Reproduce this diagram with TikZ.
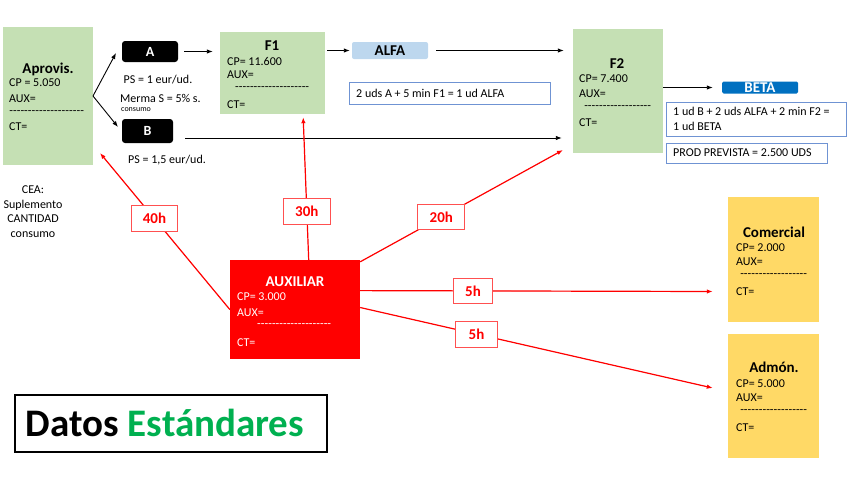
\documentclass[tikz,border=0pt]{standalone}
\usepackage{fontspec}
\setmainfont{Carlito}
\usetikzlibrary{arrows.meta,calc}
\definecolor{boxgreen}{HTML}{C5E0B4}
\definecolor{boxyellow}{HTML}{FFD966}
\definecolor{alfablue}{HTML}{BDD7EE}
\definecolor{betablue}{HTML}{0070C0}
\definecolor{fborder}{HTML}{6F93D3}
\definecolor{estgreen}{HTML}{00B050}
\definecolor{labred}{HTML}{FF5050}
\newcommand\dashrow[1]{\hbox to #1{\xleaders\hbox{-}\hfill}}
\tikzset{
  boxn/.style={draw=none, inner sep=0pt},
  gbox/.style={boxn, fill=boxgreen},
  ybox/.style={boxn, fill=boxyellow},
  ttl/.style={font=\bfseries\fontsize{15}{18}\selectfont, inner sep=0pt, anchor=base},
  ln/.style={font=\fontsize{12}{14}\selectfont, inner sep=0pt, anchor=west},
  sm/.style={font=\fontsize{12}{14.5}\selectfont, inner sep=0pt},
  tinyt/.style={font=\fontsize{8}{9}\selectfont, inner sep=0pt},
  blk/.style={fill=black, rounded corners=3pt, text=white, font=\bfseries\fontsize{14}{16}\selectfont, inner sep=0pt},
  fbox/.style={draw=fborder, line width=0.9pt, inner sep=0pt},
  arr/.style={-{Latex[length=6pt,width=4.5pt]}, line width=0.9pt},
  rarr/.style={-{Latex[length=6pt,width=4.5pt]}, line width=1.2pt, draw=red, fill=red},
  lab/.style={draw=labred, line width=0.9pt, fill=white, text=red, font=\bfseries\fontsize{15}{18}\selectfont, minimum width=46pt, minimum height=26pt, inner sep=0pt},
}
\begin{document}
\begin{tikzpicture}[x=1pt,y=-1pt]
\useasboundingbox (0,0) rectangle (848,477);

% ---------- Aprovis.
\node[gbox, minimum width=90pt, minimum height=138pt] (aprov) at (48,96) {};
\node[ttl] (aprovT) at (48,73) {Aprovis.};
\node[ln] (aprovCP) at (9,83) {CP = 5.050};
\node[ln] (aprovAUX) at (9,99) {AUX=};
\node[ln] (aprovD) at (9,113) {\dashrow{75pt}};
\node[ln] (aprovCT) at (9,127) {CT=};

% ---------- A, B
\node[blk, minimum width=56pt, minimum height=21pt] (A) at (150,51.5) {A};
\node[blk, minimum width=51pt, minimum height=24pt] (B) at (147.5,131) {B};
\node[sm] (psA) at (158,80) {PS = 1 eur/ud.};
\node[sm, anchor=west] (merma) at (120,98) {Merma S = 5\% s.};
\node[tinyt, anchor=west] (cons) at (121,110) {consumo};
\node[sm] (psB) at (167,160) {PS = 1,5 eur/ud.};
\node[sm, align=center] (cea) at (33,211.5) {CEA:\\Suplemento\\CANTIDAD\\consumo};

% ---------- F1
\node[gbox, minimum width=105pt, minimum height=82pt] (F1) at (272.5,73) {};
\node[ttl] (F1T) at (272,50) {F1};
\node[ln] (F1CP) at (227,61) {CP= 11.600};
\node[ln] (F1AUX) at (227,75) {AUX=};
\node[ln] (F1D) at (235,89) {\dashrow{74pt}};
\node[ln] (F1CT) at (227,105) {CT=};

% ---------- ALFA
\node[fill=alfablue, rounded corners=2pt, minimum width=76pt, minimum height=17pt, inner sep=0pt, font=\bfseries\fontsize{15}{18}\selectfont] (alfa) at (390,50.5) {ALFA};
\node[fbox, minimum width=201pt, minimum height=22pt] (form1) at (449.5,93) {};
\node[sm, anchor=west] (form1T) at (356,93) {2 uds A + 5 min F1 = 1 ud ALFA};

% ---------- F2
\node[gbox, minimum width=90pt, minimum height=124pt] (F2) at (618,91) {};
\node[ttl] (F2T) at (617,68) {F2};
\node[ln] (F2CP) at (579,79) {CP= 7.400};
\node[ln] (F2AUX) at (579,94) {AUX=};
\node[ln] (F2D) at (584,108) {\dashrow{67pt}};
\node[ln] (F2CT) at (579,123) {CT=};

% ---------- BETA
\node[fill=betablue, rounded corners=1.5pt, minimum width=76pt, minimum height=12pt, inner sep=0pt, text=white, font=\bfseries\fontsize{15}{18}\selectfont] (beta) at (760,87.5) {BETA};
\node[fbox, minimum width=180pt, minimum height=34pt] (form2) at (756,119) {};
\node[sm, anchor=west, align=left] (form2T) at (673,119) {1 ud B + 2 uds ALFA + 2 min F2 =\\1 ud BETA};
\node[fbox, minimum width=161pt, minimum height=20pt] (form3) at (746.5,153) {};
\node[sm, anchor=west] (form3T) at (673,153) {PROD PREVISTA = 2.500 UDS};

% ---------- AUXILIAR
\node[boxn, fill=red, minimum width=130pt, minimum height=99pt] (aux) at (295,309.5) {};
\node[ttl, text=white] (auxT) at (295,286) {AUXILIAR};
\node[ln, text=white] (auxCP) at (237,297) {CP= 3.000};
\node[ln, text=white] (auxAUX) at (237,313) {AUX=};
\node[ln, text=white] (auxD) at (257,326) {\dashrow{74pt}};
\node[ln, text=white] (auxCT) at (237,343) {CT=};

% ---------- Comercial
\node[ybox, minimum width=91pt, minimum height=125pt] (com) at (773.5,259.5) {};
\node[ttl] (comT) at (774,237) {Comercial};
\node[ln] (comCP) at (736,248) {CP= 2.000};
\node[ln] (comAUX) at (736,262) {AUX=};
\node[ln] (comD) at (740,276) {\dashrow{67pt}};
\node[ln] (comCT) at (736,292) {CT=};

% ---------- Admón.
\node[ybox, minimum width=91pt, minimum height=124pt] (adm) at (773.5,396) {};
\node[ttl] (admT) at (774,372) {Admón.};
\node[ln] (admCP) at (736,384) {CP= 5.000};
\node[ln] (admAUX) at (736,398) {AUX=};
\node[ln] (admD) at (740,412) {\dashrow{67pt}};
\node[ln] (admCT) at (736,428) {CT=};

% ---------- Datos Estándares
\node[draw=black, line width=2pt, minimum width=312pt, minimum height=57pt, inner sep=0pt] (datos) at (171,423.5) {};
\node[font=\bfseries\fontsize{39}{42}\selectfont, inner sep=0pt, anchor=base] (datosT) at (165,436) {Datos \textcolor{estgreen}{Estándares}};

% ---------- black connectors
\coordinate (br) at (93,96);
\coordinate (tA) at (116,53);
\coordinate (tB) at (118,127);
\draw[line width=0.9pt] (aprov.east |- br) -- (br);
\draw[arr] (br) -- (tA);
\draw[arr] (br) -- (tB);
\draw[arr, shorten <=6pt, shorten >=7pt] (A.east) -- (A.east -| F1.west);
\draw[arr, shorten <=2pt, shorten >=2pt] (F1.east |- alfa.west) -- (alfa.west);
\draw[arr, shorten <=8pt, shorten >=9pt] (alfa.east) -- (alfa.east -| F2.west);
\coordinate (bOut) at ($(B.east)+(12,7)$);
\draw[arr, shorten >=11pt] (bOut) -- (bOut -| F2.west);
\draw[arr, shorten >=9pt] (F2.east |- beta.west) -- (beta.west);

% ---------- red connectors
\coordinate (t40) at (100,153);
\coordinate (t20) at (563,150);
\coordinate (sCom) at ($(aux.north east)!0.31!(aux.south east)$);
\coordinate (tCom) at ($(com.west)+(-15,32)$);
\coordinate (sAdm) at ($(aux.north east)!0.48!(aux.south east)$);
\coordinate (tAdm) at ($(adm.west)+(-15,-8)$);
\draw[rarr] (aux.west) -- node[lab, pos=0.58] (l40) {40h} (t40);
\draw[rarr, shorten >=3pt] ($(aux.north west)!0.605!(aux.north east)$) -- node[lab, minimum width=47pt, pos=0.33] (l30) {30h} ($(F1.south west)!0.79!(F1.south east)$);
\draw[rarr] ($(aux.north east)+(0,2)$) -- node[lab, minimum width=47pt, minimum height=25pt, pos=0.40] (l20) {20h} (t20);
\draw[rarr] (sCom) -- node[lab, minimum width=39pt, minimum height=25pt, pos=0.32] (l5a) {5h} (tCom);
\draw[rarr] (sAdm) -- node[lab, minimum width=42pt, pos=0.33] (l5b) {5h} (tAdm);
\end{tikzpicture}
\end{document}
